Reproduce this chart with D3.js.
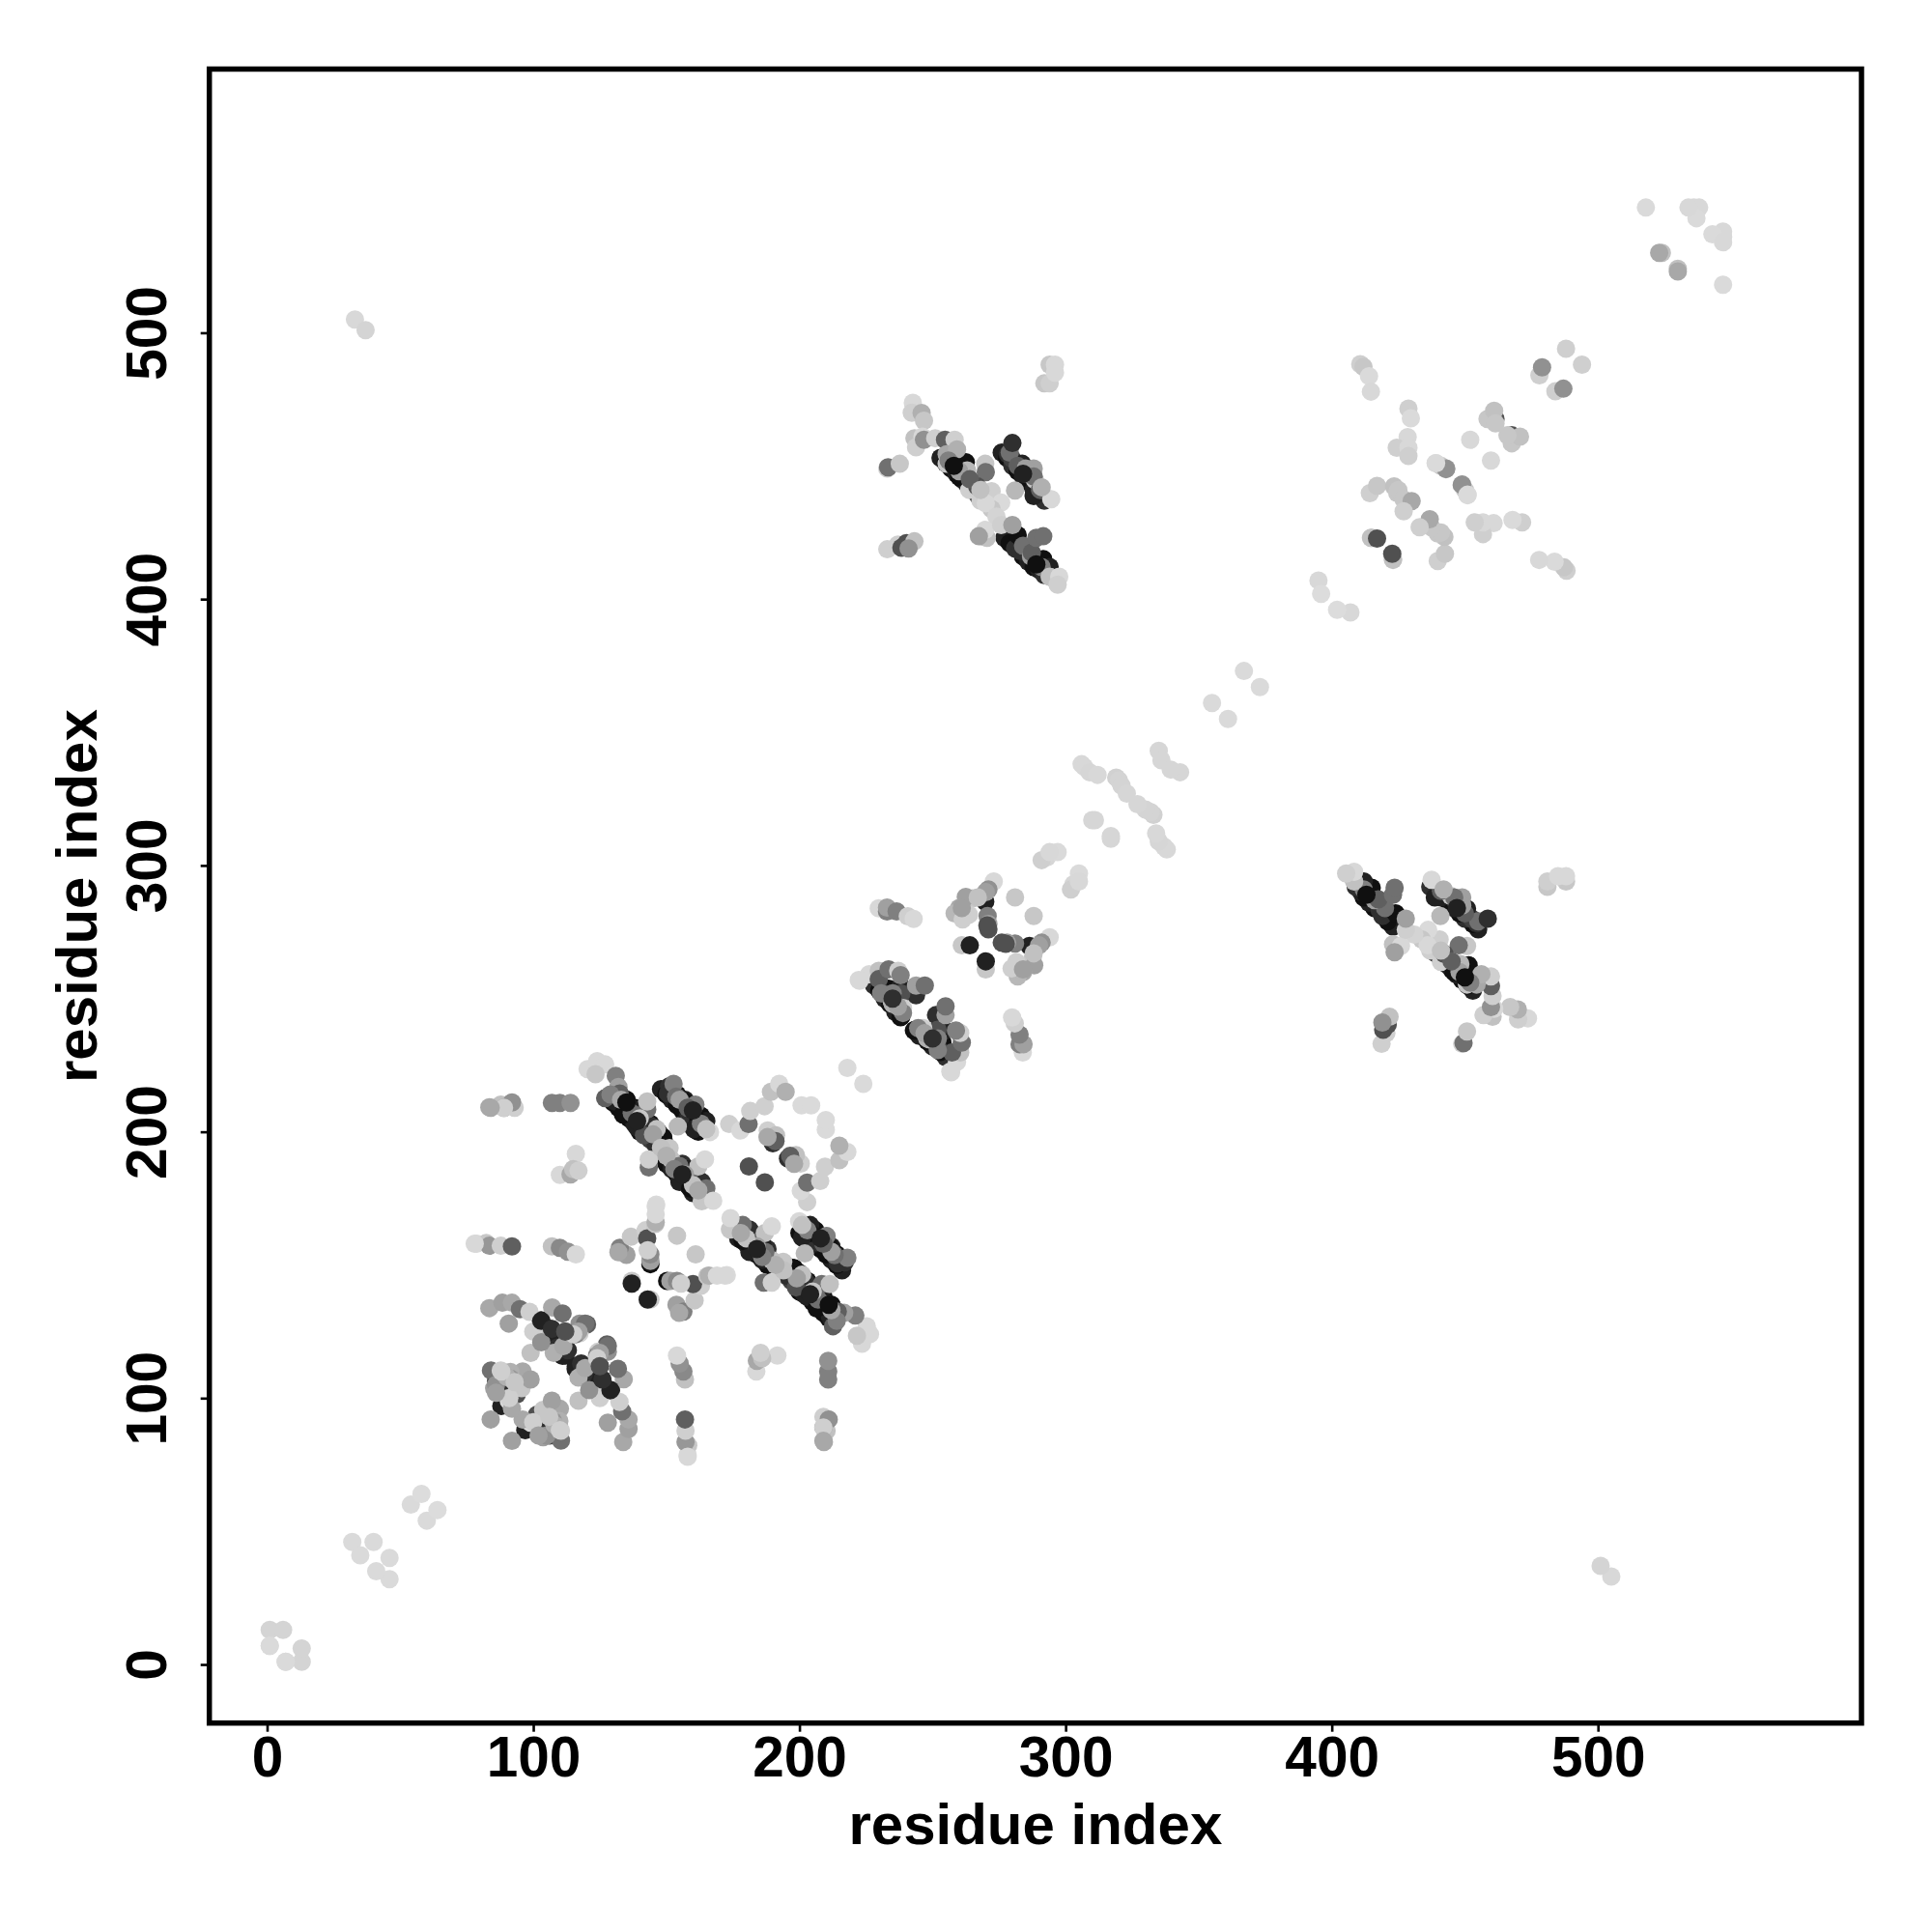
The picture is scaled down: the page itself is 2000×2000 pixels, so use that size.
<!DOCTYPE html>
<html><head><meta charset="utf-8">
<script src="https://cdn.jsdelivr.net/npm/d3@7/dist/d3.min.js"></script>
<style>html,body{margin:0;background:#fff}svg{display:block}text{font-family:"Liberation Sans",Arial,sans-serif;font-weight:700;fill:#000}</style>
</head><body><svg id="c" width="2000" height="2000"></svg>
<script>
// each row: residue a, residue b, contact score (0 weak .. 100 strong); the map is symmetric
const strandCores = [[128,213,85],[130,211,100],[132,209,100],[134,207,92],[136,205,100],[138,203,92],[140,200,100],[142,199,92],[144,197,77],[146,195,85],[135,212,100],[138,209,100],[141,206,92],[144,203,100],[147,200,100],[149,197,92],[150,188,100],[152,186,92],[154,184,100],[156,182,100],[158,180,85],[160,177,92],[156,188,85],[158,186,92],[160,184,100],[162,182,92],[164,179,100],
[148,216,92],[150,214,100],[152,212,92],[154,210,100],[156,208,100],[158,205.5,92],[160,203,100],[162,200,100],[151,217,85],[154,214,100],[157,212,92],[160,209,100],[163,206,100],[165,204,92],
[228,255,85],[230,253,100],[232,250,92],[234,248,100],[236,245,92],[238,243,100],
[253,453,92],[255,451,100],[257,449,100],[259,447,92],[261,445,100],[263,443,92],[265,441,85],[267,439,92],[276,455,92],[278,453,100],[280,450,85],[282,448,100],[284,446,92],[286,444,100],[288,441,92],[290,439,100],[292,437,85],[277,423,92],[279,421,100],[281,419,85],[284,416,100],[286,414,92],[288,412,100],[290,411,92],[292,409,85]];
const nearDiagonal = [[1,13,6],[6,13,6],[1,7,4],[7,1,3],[32,46,3],[40,46,3],[35,41,3],[54,60,3],[58,64,2],
[355,361,3],[367,373,3],[395,407,4],[396,402,2],[293,303,5],[291,302,8],[297,305,3],[294,305,4],
[306,338,4],[307,337,4],[309,335,5],[312,334,4],[319,333,7],[320,332,6],[321,330,6],[323,327,5],[310,317,5],[311,317,5],[335,343,5],[336,339.5,5],
[518,547,3],[536,547,4],[538,547,4],[537,543,3],[534,547,4],[524,530,15],[523,530,27],[33,505,4],[37,501,6]];
const sideBlocks = [[83.5,209.2,27],[87.8,210.2,15],[89,209,35],[92,210.8,42],[93,209,8],[107,210.8,46],[110,210.8,46],[114,210.8,38],
[116,191.7,4],[110,183.8,4],[114,184,27],[115,186,15],[117,185.4,8],
[78.7,158,4],[82.3,158.2,12],[83.5,157.2,35],[87.8,157.2,8],[92,157,62],[107,157,15],[110,156.4,42],[113,155,38],[116,154,4],
[92,211,38],[89,209,8],[84,209,27],[78,158,4]];
const lowerBand = [[83.5,133.8,27],[88.4,135.8,31],[92,135.8,27],[90.8,128,31],[95,133.4,54],[98.6,132.4,8],[101.7,126,15],[102.9,129.2,92],[104,127,100],[107.1,134,27],[106.5,126,85],[108,124,92],[111,131.8,54],[112,125,69],[111,115.9,92],[107.7,117,23],[111.3,119.5,27],[117.4,128,38],[120.2,127.7,62],[117.4,124.3,8],
[112,116,92],[113,118,85],[122,111,92],[124,116,46],[128,119.5,54],[125,117,31],
[96,110,27],[99,117,15],[100,125,8],[103,121,38],[109,119,85],[115,124,8],
[84.1,110.4,54],[87.8,110.4,8],[91.4,109.8,23],[91.4,107.4,35],[86,106.2,77],[89.6,106.2,92],[85.3,103.7,31],[90.8,99,4],[93.8,101.4,69],[95.6,103.7,12],[99,107,31],[84,92,31],
[96,92,27],[97,88,92],[100,91,8],[103,89,85],[105,86,38],[108,90,23],[106,93,12],[110,88,8],[102,86,31]];
const centreBlock = [[135,153.8,31],[132.5,156.4,46],[132,154.8,27],[136.7,160.6,12],[142.2,163,8],[142.8,160,69],[145.8,165.4,12],[146.2,172.7,3],[144,150.3,100],[144,151.5,31],[144,154,42],[154,161,12],[137,144,12],[143,155.5,8],[143,137,4],[146,166,23],[146,172,4],[146,169,4]];
const bandOne = [[120.4,223.5,4],[124,226.5,4],[127,225.3,4],[123.4,221.6,12],[131,221,46],[127,212.6,62],[132,216.8,31],[132.5,214.4,62],[130.7,211.4,92],[135,212,100],[136.7,209,92],[133.7,206.5,100],[142.8,208.4,54],[142.8,211.4,15],[139,201.7,92],[144,202.3,85],[141.6,198.7,69],[146.4,201,15],[148.8,198,100],[143.4,186.6,54],[143.4,189.6,8],[151.2,193.9,12],[151.8,189.6,15],[154.9,187.2,54],[158.5,183.6,62],[154.9,181.2,92],[162,187,15],[164.5,189.6,4],[159,178.7,100],[163.3,181.2,85],[165,178.7,54],[163.3,173.9,12],[167.6,174.1,4],
[129,214,46],[133,212,27],[137,207,54],[140,205,12],[145,199,31],[148,194,15],[150,191,23],[153,186,46],[157,184,31],[160,180,15],[162,178,27]];
const bandTwo = [[152.7,218,46],[150.6,214.4,85],[153.7,213.2,54],[156.7,211.4,100],[160.9,210.2,46],[154.3,202,19],[158.5,205.3,85],[162,204,100],[160.3,201,92],[166.4,199.9,4],
[155,212,31],[158,209,62],[163,203,46],[165,201,15],
[173.6,202.9,8],[177.8,200.5,4],[180.9,202.9,54],[181.5,207.8,8],[186.9,209.6,8],[189.3,215,15],[192.4,218,4],[194.8,215,23],[200.8,209.9,3],[204.4,209.9,3],[188.1,200.5,8],[191.2,198.7,15],[190,195.7,85],[191,196.5,62],[188,198,27],[218,224,3]];
const middleBlock = [[229.8,283.9,4],[232.9,282.7,46],[232.9,284.2,31],[236.5,282.7,46],[240.7,280.9,8],[242.9,279.9,4],
[222.6,256.7,4],[226.2,259.2,4],[229.8,260.4,15],[229.8,257.3,62],[233.5,261,54],[237.1,260.4,8],[231.7,251.9,69],[233.5,253.7,100],[238.3,251.9,69],[238,254.6,92],[243.8,254.9,31],[243.8,251.3,85],[247.1,254.9,54],[234.7,248.9,15],[238.9,246.5,8],[238.3,243.4,100],[238.9,244.6,46],[237.4,251,77],[235,248,23],[230.7,252,46],[222.3,257,4],[238,258.8,46],[235,252,46],[237,247,31],
[273,294,4],[271,291,38],[269.8,286.4,92],[270,290,31],[265,287.6,12],[262.5,288.2,31],[260,284,27],[258.3,282,19],[263.7,281.5,8],[261.3,279.7,8],[270.7,281,46],[271,278,31],[271,276,69],[270.6,277.5,69],[281,288,12],[261,270,12],[267,288,15],[261,284,31]];
const farBands = [[242.6,473.7,4],[242.2,470,8],[245.9,469.9,23],[246.8,467,12],[243.2,460.4,15],[246.2,461,4],[243.8,457,8],[246.8,459.8,38],[251,460.4,8],[254.7,459.8,62],[258.3,459.8,8],[255.3,454.4,27],[259.2,456.2,23],[255.3,450.8,12],[260,452,100],[262.5,451.4,100],[258.3,449,92],[263,448.3,19],[260,445.9,100],[263.8,441,8],[269.8,450.8,12],[270,447.7,54],[266.8,442.3,69],[272.2,440.5,8],[275.8,436.2,3],[272.2,433.8,12],[268,437,8],[270,436,4],[274,431,6],
[278.3,454.4,85],[280,452.6,77],[283.7,450.8,92],[288,449,31],[285,447,77],[288.5,444.7,12],[290.4,441,62],[288,438.7,92],[294.6,437.5,4],[281,440.8,19],
[256,452,46],[260,448,31],[264,445,62],[268,441,15],[279,455,54],[282,450,62],[285,449,31],[288,446,54],[291,442,23],[284,420,54],[287,416,31],[291,412,46],[295,408,15],
[270.4,423,15],[269.8,426,4],[267.4,423.6,31],[275.8,427.8,8],[280,427.8,31],[282,424,100],[283,418,85],[291.6,415,100],[294,412,92],[287.3,417.5,62],[294,408.4,15],[297.6,408.4,4],[297,405.4,8],
[233,449,8],[233.3,449.5,54],[237.7,450.8,12],[233,418.7,8],[237,420.5,8],[238.3,419.3,69],[240.2,421,69],[243.2,421.7,15],[241,419,38],
[294,488,12],[296,488,4],[292,481,12],[294,481,8],[296,485,4]];
const upperCross = [[410.7,488.2,8],[411.9,487.2,12],[414,483.7,3],[414.7,477.9,4],[428.8,471.5,8],[429.7,467.9,3],[428.5,460.8,4],[424.4,456.8,8],[428.8,456.8,4],[428.8,453.7,8],[439,451,4],[441,450,12],[443,449,35],[448.8,442.9,38],[451,439.2,3],[452,459.8,4],[461.5,467.6,69],[458.5,467.6,12],[461,470.7,15],[461.5,466,12],[414.3,439.8,8],[417,442.5,12],[423.4,442.3,15],[424.6,439.8,12],[425,441,12],[427,437.4,12],[430,436.8,27],[427,433,8],[415,423,15],[423,414.7,15],[488,494,8],[478,484,8],[479,487,38]];
const topContacts = [[137,143,92],[181,187,69],[264,270,92],[417,422.7,69],[280,458.6,85],[289,423,54],[291.6,423.6,54],
[103,129,92],[107,126,85],[112,125,69],[135,211,100],[139,204,92],[156,184,92],[160,208,92],[258,450,100],[284,447,92],[289,413,100],[235,250,85]];
const xTicks = [0,100,200,300,400,500];
const yTicks = [0,100,200,300,400,500];
const axisLabel = "residue index";

const svg = d3.select("#c");
const x = d3.scaleLinear().domain([-21.7,599]).range([216.7,1927]);
const y = d3.scaleLinear().domain([-22,599]).range([1783.7,71.5]);
const grey = d3.scaleLinear().domain([0,100]).range(["#e0e0e0","#101010"]);
const mirror = g=>g.flatMap(([a,b,s])=>[{a,b,s},{a:b,b:a,s}]);
const body = [nearDiagonal,sideBlocks,lowerBand,centreBlock,bandOne,bandTwo,middleBlock,farBands,upperCross].flatMap(mirror);
// strongest contacts lie underneath, so lighter ones leave dark crescents showing
const points = [...mirror(strandCores),...body.filter(d=>d.s>=77),...body.filter(d=>d.s<77),...mirror(topContacts)];
svg.append("g").selectAll("circle").data(points).join("circle")
  .attr("cx",d=>x(d.a)).attr("cy",d=>y(d.b)).attr("r",9.5).attr("fill",d=>grey(d.s));
svg.append("rect").attr("x",x.range()[0]).attr("y",y.range()[1])
  .attr("width",x.range()[1]-x.range()[0]).attr("height",y.range()[0]-y.range()[1])
  .attr("fill","none").attr("stroke","#000").attr("stroke-width",5.5);
const gx = svg.append("g").attr("transform",`translate(0,${y.range()[0]})`)
  .call(d3.axisBottom(x).tickValues(xTicks).tickFormat(d3.format("d")).tickSizeOuter(0).tickSize(9));
const gy = svg.append("g").attr("transform",`translate(${x.range()[0]},0)`)
  .call(d3.axisLeft(y).tickValues(yTicks).tickFormat(d3.format("d")).tickSizeOuter(0).tickSize(9));
[gx,gy].forEach(g=>{g.select(".domain").remove();g.selectAll("line").attr("stroke","#000").attr("stroke-width",2.6);
  g.selectAll("text").attr("font-size",58.5).attr("fill","#000").attr("font-family",null);});
gx.selectAll("text").attr("y",0).attr("dy",0).attr("transform","translate(0,55)").attr("text-anchor","middle");
gy.selectAll("text").each(function(d){d3.select(this).attr("x",0).attr("y",0).attr("dy",0).attr("text-anchor","middle")
  .attr("transform",`translate(-44.7,0) rotate(-90)`);});
svg.append("text").attr("x",(x.range()[0]+x.range()[1])/2).attr("y",1909).attr("text-anchor","middle").attr("font-size",60).text(axisLabel);
svg.append("text").attr("transform",`translate(99.5,${(y.range()[0]+y.range()[1])/2}) rotate(-90)`).attr("text-anchor","middle").attr("font-size",60).text(axisLabel);
</script></body></html>
